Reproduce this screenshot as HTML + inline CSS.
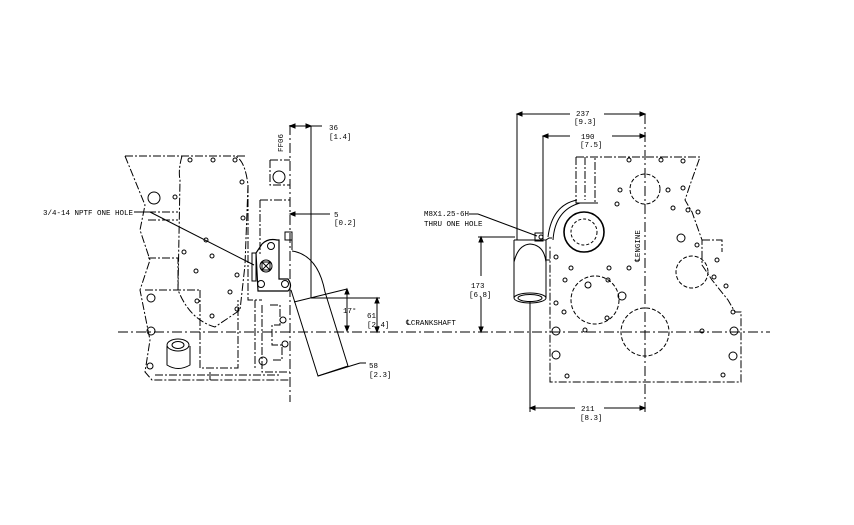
<!DOCTYPE html>
<html><head><meta charset="utf-8"><style>
html,body{margin:0;padding:0;background:#fff;}
svg{display:block}
text{font-family:"Liberation Mono",monospace;font-size:7.5px;fill:#000;}
</style></head><body>
<svg width="854" height="525" viewBox="0 0 854 525" xmlns="http://www.w3.org/2000/svg">
<g fill="none" stroke="#000" stroke-width="1">
<line x1="118" y1="332" x2="770" y2="332" stroke-dasharray="10 3 2 3"/>
<line x1="290" y1="125" x2="290" y2="402" stroke-dasharray="10 3 2 3"/>
<line x1="645" y1="114" x2="645" y2="412" stroke-dasharray="10 3 2 3"/>

<g stroke-dasharray="8 2 2 2">
<path d="M125,156 L245,156 M125,156 L145,205 L140,230 L150,260 L140,290 L150,340 L145,372 L152,380 L290,380"/>
<path d="M182,156 Q178,170 180,180 L178,290 Q190,320 215,327 L240,310 L245,265 L248,185 Q245,160 235,156"/>
<path d="M270,160 L290,160 M270,160 L270,185 L290,185 M260,200 L290,200 M260,200 L260,255 M248,185 L248,300 L262,300"/>
<path d="M148,212 L178,212 M148,220 L178,220 M148,258 L178,258 L178,290 M145,290 L200,290 M200,290 L200,368 L238,368 L238,300"/>
<path d="M255,300 L255,368 M262,305 L262,372 L290,372 M270,305 L280,305 L280,325 L272,325 L272,345 L282,345 L282,360 L272,360"/>
<path d="M155,375 L280,375 M210,372 L210,380"/>
</g>
<g stroke-width="1">
<circle cx="279" cy="177" r="6"/><circle cx="154" cy="198" r="6"/>
<circle cx="151" cy="298" r="4"/><circle cx="151" cy="331" r="4"/>
<circle cx="263" cy="361" r="4"/><circle cx="285" cy="344" r="3"/><circle cx="283" cy="320" r="3"/>
<circle cx="150" cy="366" r="3"/>
<circle cx="190" cy="160" r="2"/><circle cx="213" cy="160" r="2"/><circle cx="235" cy="160" r="2"/>
<circle cx="242" cy="182" r="2"/><circle cx="175" cy="197" r="2"/><circle cx="243" cy="218" r="2"/>
<circle cx="184" cy="252" r="2"/><circle cx="212" cy="256" r="2"/><circle cx="196" cy="271" r="2"/>
<circle cx="237" cy="275" r="2"/><circle cx="230" cy="292" r="2"/><circle cx="197" cy="301" r="2"/>
<circle cx="237" cy="309" r="2"/><circle cx="212" cy="316" r="2"/><circle cx="206" cy="240" r="2"/>
<path d="M167,346 L167,365 Q178,372 190,365 L190,346"/>
<ellipse cx="178" cy="345" rx="11" ry="6"/><ellipse cx="178" cy="345" rx="6" ry="3.5"/>
</g>
<path d="M262,244 Q268,238 277,240 L279,240 L279,279 L288,279 Q293,286 288,291 L258,291 L256,253 Z" stroke-width="1.2"/>
<rect x="285" y="232" width="7" height="8"/>
<line x1="292" y1="234" x2="292" y2="250"/>
<rect x="252" y="253" width="4" height="28"/>
<circle cx="266" cy="266" r="6"/><rect x="262" y="262" width="8" height="8"/>
<path d="M262,262 L270,270 M270,262 L262,270"/>
<circle cx="271" cy="246" r="3.5"/><circle cx="261" cy="284" r="3.5"/><circle cx="285" cy="284" r="3.5"/>
<path d="M292,251 Q318,255 325,292 L348,366"/>
<path d="M291,290 L318,376 L348,366"/>
<path d="M294,302 L347,289"/>
<line x1="311" y1="126" x2="311" y2="298"/>
<line x1="290" y1="126" x2="322" y2="126"/>
<path d="M290,126 l5,-2 v4 z M311,126 l-5,-2 v4 z" fill="#000"/>
<line x1="292" y1="214" x2="330" y2="214"/>
<path d="M290,214 l5,-2 v4 z" fill="#000"/>
<line x1="311" y1="298" x2="380" y2="298"/>
<line x1="377" y1="298" x2="377" y2="332"/>
<path d="M377,298 l-2,5 h4 z M377,332 l-2,-5 h4 z" fill="#000"/>
<line x1="347" y1="289" x2="347" y2="331"/>
<path d="M347,289 l-2,5 h4 z M347,331 l-2,-5 h4 z" fill="#000"/>
<line x1="318" y1="376" x2="360" y2="363"/>
<line x1="360" y1="363" x2="366" y2="363"/>
<line x1="134" y1="212" x2="150" y2="212"/>
<line x1="150" y1="212" x2="254" y2="265"/>

<g stroke-dasharray="8 2 2 2">
<path d="M576,157 L700,157 L690,185 L685,200 L692,212 L702,240 L702,265 L712,280 L728,300 L735,312 L741,312 L741,382 L550,382 L550,245"/>
<path d="M576,157 L576,203 L595,203 L595,185 L595,157 M585,157 L585,200"/>
<path d="M702,240 L722,240 L722,252"/>
</g>
<circle cx="645" cy="332" r="24" stroke-dasharray="4 2"/>
<circle cx="595" cy="300" r="24" stroke-dasharray="4 2"/>
<circle cx="645" cy="189" r="15" stroke-dasharray="4 2"/>
<circle cx="692" cy="272" r="16" stroke-dasharray="4 2"/>
<circle cx="584" cy="232" r="20" stroke-width="1.6"/>
<circle cx="584" cy="232" r="13" stroke-dasharray="3 2"/>
<path d="M553,240 Q555,210 580,203 L598,203"/>
<path d="M548,237 Q552,205 577,200"/>
<g>
<circle cx="556" cy="331" r="4"/><circle cx="734" cy="331" r="4"/><circle cx="556" cy="355" r="4"/>
<circle cx="733" cy="356" r="4"/><circle cx="681" cy="238" r="4"/><circle cx="622" cy="296" r="4"/>
<circle cx="629" cy="160" r="2"/><circle cx="661" cy="160" r="2"/><circle cx="683" cy="161" r="2"/>
<circle cx="620" cy="190" r="2"/><circle cx="668" cy="190" r="2"/><circle cx="683" cy="188" r="2"/>
<circle cx="617" cy="204" r="2"/><circle cx="673" cy="208" r="2"/><circle cx="688" cy="210" r="2"/>
<circle cx="556" cy="257" r="2"/><circle cx="571" cy="268" r="2"/><circle cx="609" cy="268" r="2"/>
<circle cx="629" cy="268" r="2"/><circle cx="565" cy="280" r="2"/><circle cx="608" cy="280" r="2"/>
<circle cx="556" cy="303" r="2"/><circle cx="564" cy="312" r="2"/><circle cx="607" cy="318" r="2"/>
<circle cx="585" cy="330" r="2"/><circle cx="702" cy="331" r="2"/><circle cx="567" cy="376" r="2"/>
<circle cx="723" cy="375" r="2"/><circle cx="697" cy="245" r="2"/><circle cx="717" cy="260" r="2"/>
<circle cx="714" cy="277" r="2"/><circle cx="726" cy="286" r="2"/><circle cx="733" cy="312" r="2"/>
<circle cx="698" cy="212" r="2"/><circle cx="588" cy="285" r="3"/>
</g>
<path d="M514,298 L514,262 Q518,245 530,244 Q544,245 546,262 L546,298"/>
<ellipse cx="530" cy="298" rx="16" ry="5"/>
<ellipse cx="530" cy="298" rx="12" ry="3.5"/>
<path d="M514,240 L546,240 M514,240 L514,262 M546,240 L546,262 M546,240 L549,238 L552,238"/>
<rect x="535" y="233" width="8" height="8"/><circle cx="541" cy="237" r="2"/>
<line x1="546" y1="260" x2="550" y2="260"/>
<line x1="469" y1="214" x2="478" y2="214"/>
<line x1="478" y1="214" x2="537" y2="236"/>
<line x1="517" y1="114" x2="517" y2="240"/>
<line x1="543" y1="136" x2="543" y2="240"/>
<line x1="517" y1="114" x2="570" y2="114"/><line x1="604" y1="114" x2="645" y2="114"/>
<line x1="543" y1="136" x2="570" y2="136"/><line x1="612" y1="136" x2="645" y2="136"/>
<path d="M517,114 l5,-2 v4 z M645,114 l-5,-2 v4 z M543,136 l5,-2 v4 z M645,136 l-5,-2 v4 z" fill="#000"/>
<line x1="478" y1="237" x2="515" y2="237"/>
<line x1="481" y1="237" x2="481" y2="276"/><line x1="481" y1="297" x2="481" y2="332"/>
<path d="M481,237 l-2,5 h4 z M481,332 l-2,-5 h4 z" fill="#000"/>
<line x1="530" y1="302" x2="530" y2="412"/>
<line x1="530" y1="408" x2="575" y2="408"/><line x1="604" y1="408" x2="645" y2="408"/>
<path d="M530,408 l5,-2 v4 z M645,408 l-5,-2 v4 z" fill="#000"/>
</g>
<text x="329" y="130">36</text><text x="329" y="139">[1.4]</text>
<text x="283" y="152" transform="rotate(-90 283 152)">FF06</text>
<text x="334" y="217">5</text><text x="334" y="225">[0.2]</text>
<text x="343" y="313">17°</text>
<text x="367" y="318">61</text><text x="367" y="327">[2.4]</text>
<text x="369" y="368">58</text><text x="369" y="377">[2.3]</text>
<text x="406" y="325">℄CRANKSHAFT</text>
<text x="43" y="215" textLength="90">3/4-14 NPTF ONE HOLE</text>
<text x="424" y="216">M8X1.25-6H</text>
<text x="424" y="226">THRU ONE HOLE</text>
<text x="576" y="116">237</text><text x="574" y="124">[9.3]</text>
<text x="581" y="139">190</text><text x="580" y="147">[7.5]</text>
<text x="471" y="288">173</text><text x="469" y="297">[6.8]</text>
<text x="581" y="411">211</text><text x="580" y="420">[8.3]</text>
<text x="640" y="262" transform="rotate(-90 640 262)">℄ENGINE</text>
</svg>
</body></html>
